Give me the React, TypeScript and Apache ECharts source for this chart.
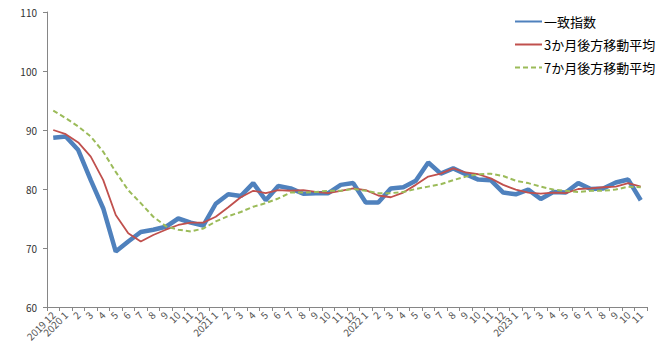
import React, { useEffect, useRef } from "react";
import * as echarts from "echarts";

const categories: string[] = [
  "2019 12", "2020 1", "2", "3", "4", "5", "6", "7", "8", "9", "10", "11", "12",
  "2021 1", "2", "3", "4", "5", "6", "7", "8", "9", "10", "11", "12",
  "2022 1", "2", "3", "4", "5", "6", "7", "8", "9", "10", "11", "12",
  "2023 1", "2", "3", "4", "5", "6", "7", "8", "9", "10", "11",
];

const coincident: number[] = [
  88.7, 88.9, 86.6, 81.5, 76.7, 69.4, 71.1, 72.7, 73.1, 73.6, 75.0, 74.3, 73.8,
  77.5, 79.1, 78.8, 81.0, 78.1, 80.5, 80.1, 79.2, 79.3, 79.3, 80.7, 81.0,
  77.7, 77.7, 80.1, 80.3, 81.4, 84.5, 82.6, 83.5, 82.5, 81.6, 81.5, 79.4,
  79.1, 79.9, 78.3, 79.5, 79.4, 81.0, 80.0, 80.1, 81.1, 81.6, 78.1,
];

const ma3: number[] = [
  90.0, 89.3, 87.9, 85.5, 81.5, 75.6, 72.5, 71.1, 72.2, 73.1, 73.9, 74.3, 74.3,
  75.3, 76.9, 78.6, 79.7, 79.3, 79.8, 79.7, 79.8, 79.5, 79.3, 79.7, 80.1,
  79.8, 78.9, 78.6, 79.4, 80.7, 82.1, 82.6, 83.5, 82.8, 82.5, 81.8, 80.7,
  79.9, 79.4, 79.2, 79.4, 79.3, 80.0, 80.1, 80.3, 80.4, 81.0, 80.4,
];

const ma7: number[] = [
  93.3, 92.0, 90.6, 88.9, 86.3, 82.9, 79.8, 77.6, 75.3, 73.7, 73.1, 72.8, 73.3,
  74.5, 75.4, 76.1, 77.0, 77.6, 78.4, 79.4, 79.4, 79.5, 79.7, 79.7, 80.0,
  79.7, 79.3, 79.3, 79.5, 80.0, 80.4, 80.8, 81.5, 82.1, 82.5, 82.6, 82.2,
  81.4, 81.0, 80.4, 79.9, 79.7, 79.5, 79.7, 79.7, 79.9, 80.4, 80.3,
];

const seriesNames: string[] = ["一致指数", "3か月後方移動平均", "7か月後方移動平均"];

export default function App() {
  const ref = useRef<HTMLDivElement>(null);
  useEffect(() => {
    if (!ref.current) return;
    const chart = echarts.init(ref.current, undefined, { renderer: "svg" });
    const font = "'Noto Sans CJK JP', 'Liberation Sans', sans-serif";
    chart.setOption({
      animation: false,
      textStyle: { fontFamily: font },
      legend: {
        orient: "vertical",
        left: 514,
        top: 15,
        padding: 0,
        itemWidth: 27,
        itemHeight: 14,
        itemGap: 10,
        itemStyle: { opacity: 0 },
        textStyle: { fontSize: 13, color: "#000", fontFamily: font, padding: [0, 0, 0, -3] },
        data: seriesNames,
      },
      grid: { left: 47, right: 22, top: 12, bottom: 50 },
      xAxis: {
        type: "category",
        data: categories,
        boundaryGap: true,
        axisLine: { lineStyle: { color: "#868686", width: 1 } },
        axisTick: { show: true, interval: 0, length: 4, lineStyle: { color: "#868686" } },
        axisLabel: {
          interval: 0,
          rotate: 45,
          fontSize: 10,
          color: "#555",
          margin: 6,
          fontFamily: font,
        },
        splitLine: { show: false },
      },
      yAxis: {
        type: "value",
        min: 60,
        max: 110,
        interval: 10,
        axisLine: { show: true, lineStyle: { color: "#868686", width: 1 } },
        axisTick: { show: true, length: 4, lineStyle: { color: "#868686" } },
        axisLabel: { fontSize: 10, color: "#333", margin: 10, fontFamily: font },
        splitLine: { show: false },
      },
      series: [
        {
          name: seriesNames[0],
          type: "line",
          data: coincident,
          symbol: "none",
          lineStyle: { color: "#4F81BD", width: 4.5 },
          itemStyle: { color: "#4F81BD" },
          z: 3,
        },
        {
          name: seriesNames[1],
          type: "line",
          data: ma3,
          symbol: "none",
          lineStyle: { color: "#C0504D", width: 1.8 },
          itemStyle: { color: "#C0504D" },
          z: 4,
        },
        {
          name: seriesNames[2],
          type: "line",
          data: ma7,
          symbol: "none",
          lineStyle: { color: "#9BBB59", width: 2, type: [5, 3] },
          itemStyle: { color: "#9BBB59" },
          z: 5,
        },
      ],
    });
    return () => chart.dispose();
  }, []);
  return <div ref={ref} style={{ width: 669, height: 357, position: "absolute", left: 0, top: 0 }} />;
}
